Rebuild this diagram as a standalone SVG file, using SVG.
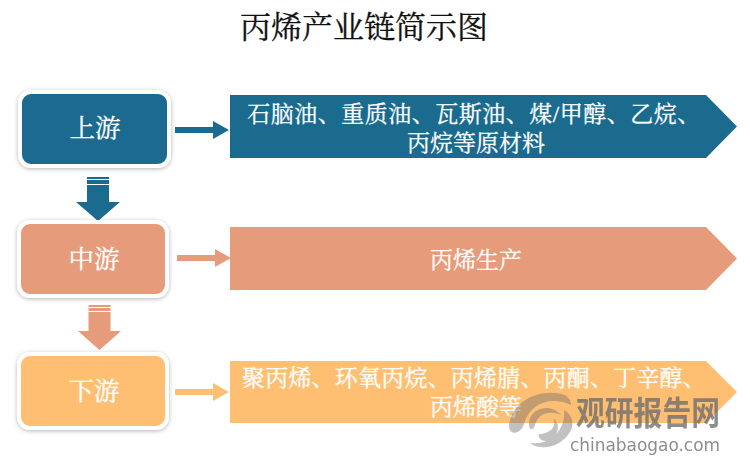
<svg xmlns="http://www.w3.org/2000/svg" width="750" height="460" viewBox="0 0 750 460">
<style>
text{font-family:"Liberation Serif","Noto Serif CJK SC","Noto Sans CJK SC",serif}
.t{fill:#fff;font-size:23px;text-anchor:middle;stroke:#fff;stroke-width:.3}
.n{fill:#fff;font-size:25.500px;text-anchor:middle;stroke:#fff;stroke-width:.3}
.box{stroke:#fff;stroke-width:4;filter:url(#s)}
.a{fill:#1b6b8f}.b{fill:#e69b7a}.c{fill:#ffbf73}
</style>
<defs><filter id="s" x="-10%" y="-15%" width="120%" height="130%"><feDropShadow dx="0" dy="1" stdDeviation="2" flood-color="#000" flood-opacity="0.3"/></filter></defs>
<rect width="750" height="460" fill="#fff"/>
<text x="364" y="38" font-size="31" text-anchor="middle" fill="#111" stroke="#111" stroke-width=".3">丙烯产业链简示图</text>
<g id="connectors">
<path class="a" d="M175 127H213V121L229 130L213 139V133H175Z"/>
<path class="b" d="M177 255H215V249L231 258L215 267V261H177Z"/>
<path class="c" d="M175 389H213V383L229 392L213 401V395H175Z"/>
<path class="a" d="M87 177H109V179H87ZM87 180H109V184H87ZM87 185H109V202H120L98 221L76 202H87Z"/>
<path class="b" d="M88.500 305H110.500V307H88.500ZM88.500 308H110.500V311H88.500ZM88.500 312H110.500V331H121L99.500 350L78 331H88.500Z"/>
</g>
<g id="upstream"><rect class="box a" x="20" y="92" width="149" height="74" rx="11"/><text class="n" x="95" y="137">上游</text></g>
<g id="midstream"><rect class="box b" x="19" y="222" width="148" height="74" rx="11"/><text class="n" x="94" y="268">中游</text></g>
<g id="downstream"><rect class="box c" x="19" y="354" width="148" height="74" rx="11"/><text class="n" x="94" y="400">下游</text></g>
<g id="upstream-materials"><polygon class="a" points="230,95 706,95 737,126.500 706,158 230,158"/><text class="t" x="474" y="122" style="letter-spacing:.5px">石脑油、重质油、瓦斯油、煤/甲醇、乙烷、</text><text class="t" x="476" y="151">丙烷等原材料</text></g>
<g id="midstream-product"><polygon class="b" points="230,227 706,227 737,258.500 706,290 230,290"/><text class="t" x="476" y="268">丙烯生产</text></g>
<g id="downstream-products"><polygon class="c" points="230,361 706,361 737,392 706,423 230,423"/><text class="t" x="474" y="386" style="letter-spacing:.2px">聚丙烯、环氧丙烷、丙烯腈、丙酮、丁辛醇、</text><text class="t" x="476" y="415">丙烯酸等</text></g>
<g id="watermark" fill="#6e6e6e">
<g opacity=".42">
<path d="M509 427C510 405 534 388 562 394C568 396 571 400 571 405C552 396 530 402 524 424C521 434 510 436 509 427Z"/>
<path d="M530 443C550 446 566 430 564 410C572 414 575 424 570 432C562 446 542 452 530 443Z"/>
<path d="M529 422C531 407 552 403 561 415C550 410 538 413 535 425C533 432 528 430 529 422Z"/>
<path d="M539 434C552 434 557 424 553 418C562 424 558 440 546 441C541 441 538 438 539 434Z"/>
</g>
<g opacity=".78">
<text transform="translate(576 425) scale(1 1.150)" font-size="29" font-weight="700" textLength="144" lengthAdjust="spacingAndGlyphs" style="font-family:'Noto Sans CJK SC',sans-serif">观研报告网</text>
<text x="570" y="451" font-size="18" textLength="150" lengthAdjust="spacingAndGlyphs" style="font-family:'DejaVu Sans',sans-serif">chinabaogao.com</text>
</g>
</g>
</svg>
